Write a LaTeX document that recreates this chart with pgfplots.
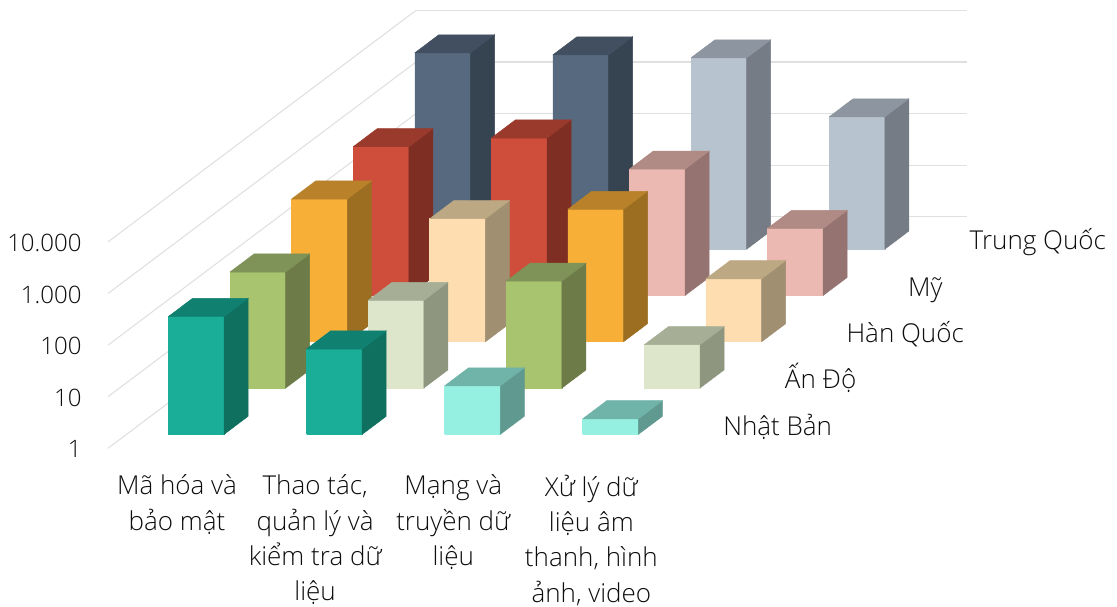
\documentclass[border=0pt]{standalone}
\usepackage{fontspec}
\setmainfont{Open Sans Light}
\usepackage{pgfplots}
\pgfplotsset{compat=1.18}

% Face colours of the boxes: F = front, S = side, T = top
\definecolor{tealF}{HTML}{1AAE98}\definecolor{tealS}{HTML}{107060}\definecolor{tealT}{HTML}{108070}
\definecolor{ltealF}{HTML}{96F0E2}\definecolor{ltealS}{HTML}{5F998F}\definecolor{ltealT}{HTML}{70B3A9}
\definecolor{greenF}{HTML}{A9C46F}\definecolor{greenS}{HTML}{6C7B47}\definecolor{greenT}{HTML}{7F9258}
\definecolor{lgreenF}{HTML}{DDE6CA}\definecolor{lgreenS}{HTML}{8E9680}\definecolor{lgreenT}{HTML}{A6AE96}
\definecolor{orangeF}{HTML}{F8AF38}\definecolor{orangeS}{HTML}{9C6E22}\definecolor{orangeT}{HTML}{B9822A}
\definecolor{lorangeF}{HTML}{FEDDB0}\definecolor{lorangeS}{HTML}{A08F70}\definecolor{lorangeT}{HTML}{BDA884}
\definecolor{redF}{HTML}{CE4D3B}\definecolor{redS}{HTML}{7F2E24}\definecolor{redT}{HTML}{9A3A2C}
\definecolor{pinkF}{HTML}{ECB8B2}\definecolor{pinkS}{HTML}{957370}\definecolor{pinkT}{HTML}{B08A84}
\definecolor{navyF}{HTML}{56697E}\definecolor{navyS}{HTML}{364350}\definecolor{navyT}{HTML}{414F60}
\definecolor{lnavyF}{HTML}{B8C3D0}\definecolor{lnavyS}{HTML}{757C86}\definecolor{lnavyT}{HTML}{8C95A0}

% \cube{category}{row}{value}{colour set}: one box standing on the floor
\newcommand{\cube}[4]{%
  \pgfmathsetmacro\xa{#1+0.303}\pgfmathsetmacro\xb{#1+0.706}%
  \pgfmathsetmacro\ya{#2+0.302}\pgfmathsetmacro\yb{#2+0.692}%
  \addplot3[fill=#4F,draw=#4F,line width=0.5pt,no marks,forget plot] coordinates
    {(\xa,\ya,1) (\xb,\ya,1) (\xb,\ya,#3) (\xa,\ya,#3) (\xa,\ya,1)};
  \addplot3[fill=#4S,draw=#4S,line width=0.5pt,no marks,forget plot] coordinates
    {(\xb,\ya,1) (\xb,\yb,1) (\xb,\yb,#3) (\xb,\ya,#3) (\xb,\ya,1)};
  \addplot3[fill=#4T,draw=#4T,line width=0.5pt,no marks,forget plot] coordinates
    {(\xa,\ya,#3) (\xb,\ya,#3) (\xb,\yb,#3) (\xa,\yb,#3) (\xa,\ya,#3)};
}

\begin{document}
\begin{tikzpicture}
\begin{axis}[
  x={(138.1pt,0pt)}, y={(61.6pt,46.3pt)}, z={(0pt,51.6pt)},
  zmode=log, log basis z=10,
  xmin=0, xmax=3.99, ymin=0, ymax=5, zmin=1, zmax=10000,
  clip=false,
  axis line style={draw=none}, tick style={draw=none},
  zmajorgrids, grid style={draw=none}, z grid style={draw=black!12,line width=1.1pt},
  tick label style={font=\fontsize{26}{35.3}\selectfont,text=black!95},
  xtick={0.5,1.5,2.5,3.5},
  xticklabels={{Mã hóa và\\bảo mật},{Thao tác,\\quản lý và\\kiểm tra dữ\\liệu},{Mạng và\\truyền dữ\\liệu},{Xử lý dữ\\liệu âm\\thanh, hình\\ảnh, video}},
  x tick label style={align=center,anchor=north,yshift=-26.5pt,inner ysep=0pt},
  ytick={0.5,1.5,2.5,3.5,4.5},
  yticklabels={Nhật Bản,Ấn Độ,Hàn Quốc,Mỹ,Trung Quốc},
  % the row names sit beyond the right end of the floor
  y tick label style={anchor=base west,xshift=581pt,yshift=-216.4pt},
  yticklabel pos=upper,
  ztick={1,10,100,1000,10000},
  zticklabels={1,10,100,{1.000},{10.000}},
  z tick label style={anchor=east,xshift=-23pt,yshift=-1pt,font=\fontsize{24}{30}\selectfont},
]
  % rows from back to front so nearer boxes cover farther ones
  \cube{0}{4}{6370}{navy}\cube{1}{4}{5824}{navy}\cube{2}{4}{5095}{lnavy}\cube{3}{4}{366}{lnavy}
  \cube{0}{3}{762}{red}\cube{1}{3}{1123}{red}\cube{2}{3}{281}{pink}\cube{3}{3}{19.9}{pink}
  \cube{0}{2}{583}{orange}\cube{1}{2}{242}{lorange}\cube{2}{2}{368}{orange}\cube{3}{2}{16.6}{lorange}
  \cube{0}{1}{177}{green}\cube{1}{1}{50}{lgreen}\cube{2}{1}{118}{green}\cube{3}{1}{6.9}{lgreen}
  \cube{0}{0}{192}{teal}\cube{1}{0}{45}{teal}\cube{2}{0}{8.7}{lteal}\cube{3}{0}{2.0}{lteal}
  \coordinate (o) at (axis cs:0,0,1);
\end{axis}
\pgfresetboundingbox
\path[use as bounding box] ([shift={(-108pt,-158.7pt)}]o) rectangle ([shift={(1009pt,448.3pt)}]o);
\end{tikzpicture}
\end{document}
